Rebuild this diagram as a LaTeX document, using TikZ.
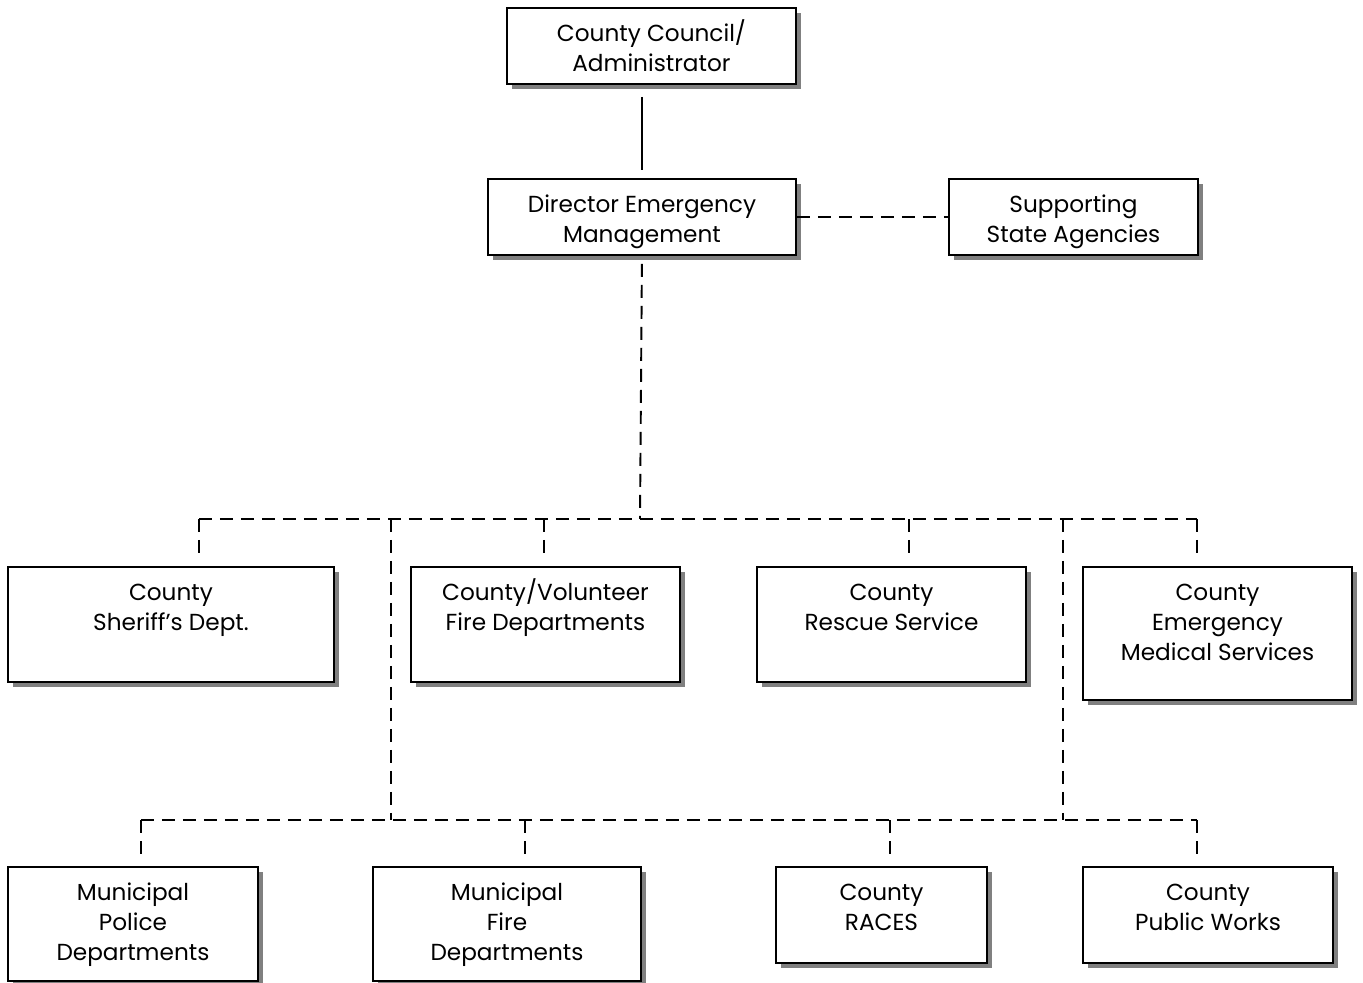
\documentclass[tikz,border=0pt]{standalone}
\usepackage{fontspec}
\setmainfont{Poppins}
\usetikzlibrary{shadows}
\newcommand{\upx}{0.02cm}
\newcommand{\hstrut}{\rule{0pt}{13.5pt}}
\tikzset{
  unit/.style={draw, line width=1.1pt, fill=white, anchor=north west, inner sep=0pt,
    drop shadow={shadow xshift=0.1cm, shadow yshift=-0.1cm, fill=black!50, opacity=1}},
  caption/.style={align=center, anchor=north, font=\fontsize{13.2}{17}\selectfont, yshift=-0.09cm},
  link/.style={line width=1.1pt},
  dashlink/.style={line width=1.1pt, dash pattern=on 0.26cm off 0.16cm},
}

\begin{document}
\begin{tikzpicture}[x=0.02cm, y=-0.02cm]
  \useasboundingbox (0,0) rectangle (1363,983);
  % boxes
  \node[unit, minimum width=289*\upx, minimum height=76*\upx, label={[caption]north:{\hstrut County Council/\\Administrator}}] (council) at (506,7) {};
  \node[unit, minimum width=308*\upx, minimum height=76*\upx, label={[caption]north:{\hstrut Director Emergency\\Management}}] (director) at (487,178) {};
  \node[unit, minimum width=249*\upx, minimum height=76*\upx, label={[caption]north:{\hstrut Supporting\\State Agencies}}] (support) at (948,178) {};
  \node[unit, minimum width=326*\upx, minimum height=115*\upx, label={[caption]north:{\hstrut County\\Sheriff’s Dept.}}] (sheriff) at (7,566) {};
  \node[unit, minimum width=269*\upx, minimum height=115*\upx, label={[caption]north:{\hstrut County/Volunteer\\Fire Departments}}] (vfire) at (410,566) {};
  \node[unit, minimum width=269*\upx, minimum height=115*\upx, label={[caption]north:{\hstrut County\\Rescue Service}}] (rescue) at (756,566) {};
  \node[unit, minimum width=269*\upx, minimum height=133*\upx, label={[caption]north:{\hstrut County\\Emergency\\Medical Services}}] (ems) at (1082,566) {};
  \node[unit, minimum width=250*\upx, minimum height=114*\upx, label={[caption]north:{\hstrut Municipal\\Police\\Departments}}] (police) at (7,866) {};
  \node[unit, minimum width=268*\upx, minimum height=114*\upx, label={[caption]north:{\hstrut Municipal\\Fire\\Departments}}] (mfire) at (372,866) {};
  \node[unit, minimum width=211*\upx, minimum height=96*\upx, label={[caption]north:{\hstrut County\\RACES}}] (races) at (775,866) {};
  \node[unit, minimum width=250*\upx, minimum height=96*\upx, label={[caption]north:{\hstrut County\\Public Works}}] (works) at (1082,866) {};
  % bus points
  \coordinate (hub) at (640,519);
  \coordinate (s1) at (199,519);
  \coordinate (s2) at (544,519);
  \coordinate (s3) at (909,519);
  \coordinate (s4) at (1197,519);
  \coordinate (k1) at (391,519);
  \coordinate (k2) at (1063,519);
  \coordinate (m1) at (141,820);
  \coordinate (m2) at (525,820);
  \coordinate (m3) at (890,820);
  \coordinate (m4) at (1197,820);
  \coordinate (j1) at (391,820);
  \coordinate (j2) at (1063,820);
  % lines
  \draw[link, shorten <=0.24cm, shorten >=0.16cm] (director.north |- council.south) -- (director.north);
  \draw[dashlink] (director.east) -- (support.west);
  \draw[dashlink, shorten <=0.16cm] (director.south) -- (hub);
  \draw[dashlink] (s1) -- (s4);
  \foreach \c/\b in {s1/sheriff, s2/vfire, s3/rescue, s4/ems}
    \draw[dashlink, shorten >=0.2cm] (\c) -- (\c |- \b.north);
  \draw[dashlink] (k1) -- (j1);
  \draw[dashlink] (k2) -- (j2);
  \draw[dashlink] (m1) -- (m4);
  \foreach \c/\b in {m1/police, m2/mfire, m3/races, m4/works}
    \draw[dashlink, shorten >=0.18cm] (\c) -- (\c |- \b.north);
\end{tikzpicture}
\end{document}
